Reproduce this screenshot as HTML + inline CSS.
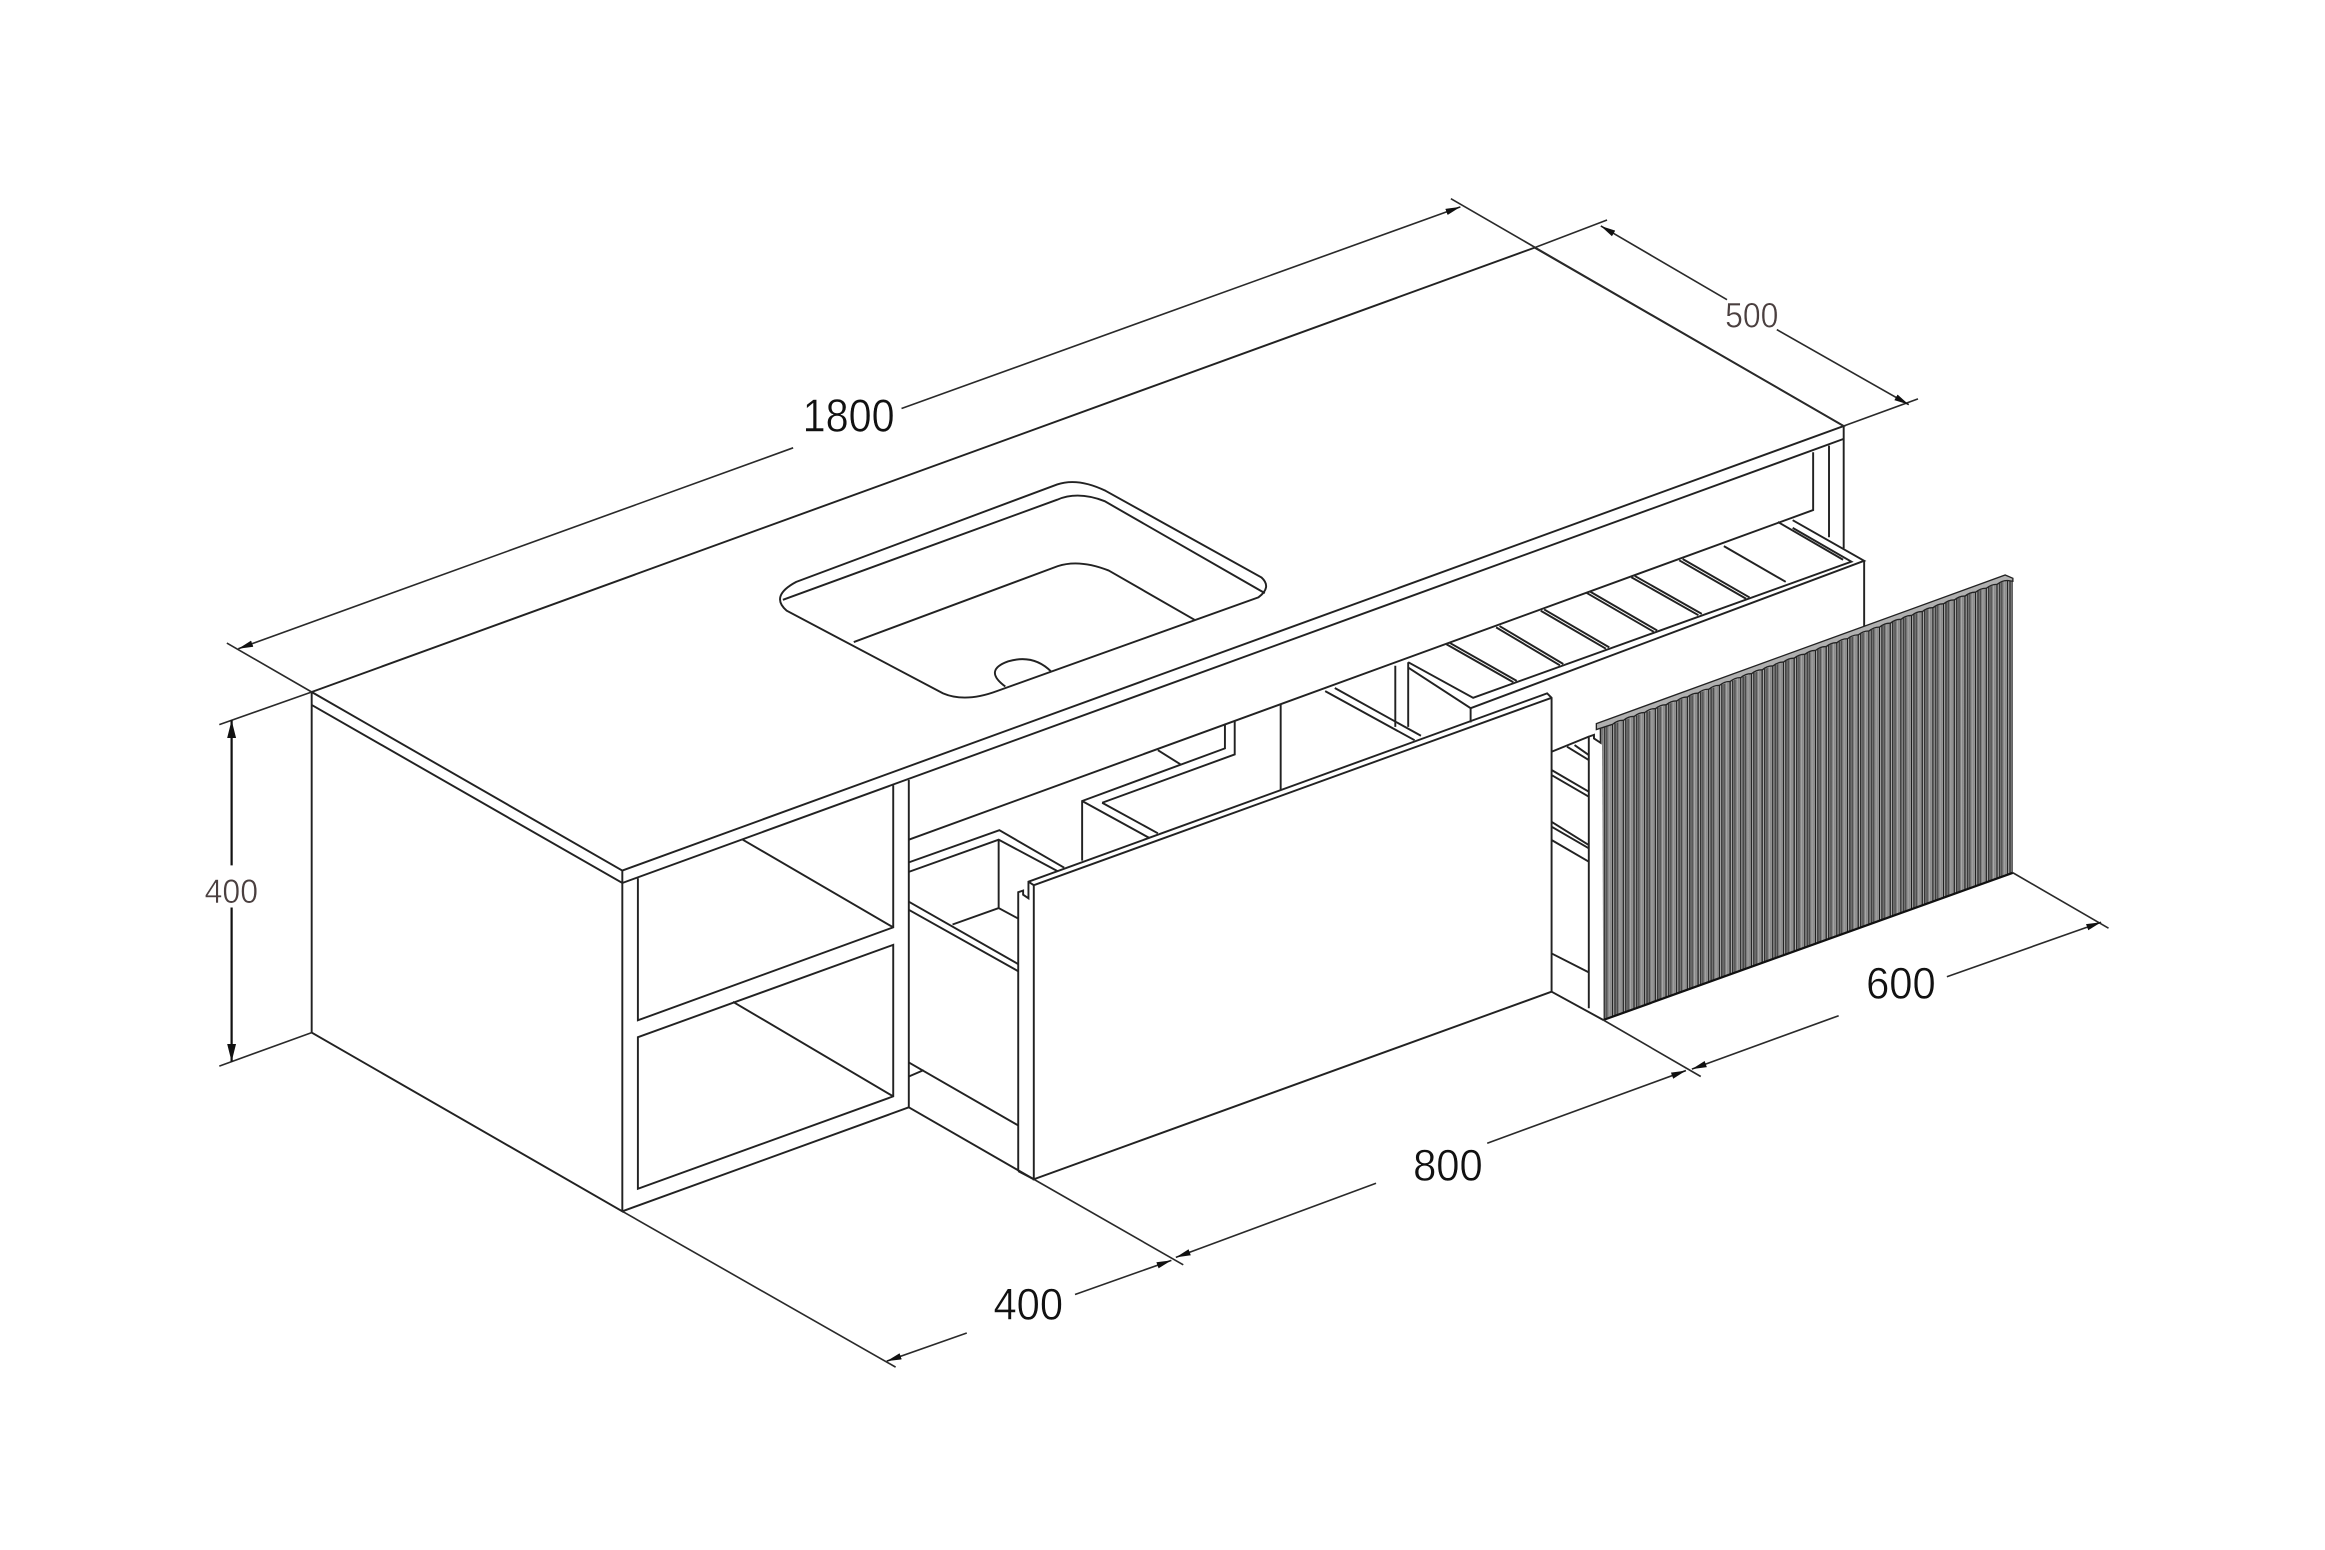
<!DOCTYPE html>
<html><head><meta charset="utf-8"><style>
html,body{margin:0;padding:0;background:#fff;width:2325px;height:1550px;overflow:hidden}
svg{display:block}
text{font-family:"Liberation Sans",sans-serif;fill:#111;stroke:#fff;stroke-width:.35;paint-order:normal}
.l{fill:none;stroke:#222;stroke-width:1.3;stroke-linejoin:miter;stroke-linecap:butt}
.d{fill:none;stroke:#2a2a2a;stroke-width:1.1}
</style></head><body>
<svg width="2325" height="1550" viewBox="0 0 1568 1045.33" xmlns="http://www.w3.org/2000/svg">
<defs>
<marker id="a" markerUnits="userSpaceOnUse" markerWidth="12" markerHeight="8" refX="10" refY="3" orient="auto"><path d="M0,0.8 L10,3 L0,5.2 Z" fill="#111"/></marker>
<marker id="b" markerUnits="userSpaceOnUse" markerWidth="14" markerHeight="8" refX="12" refY="4" orient="auto"><path d="M0,1 L12,4 L0,7 Z" fill="#111"/></marker>
<linearGradient id="g"><stop offset="0" stop-color="#5c5c5c"/><stop offset="1" stop-color="#969696"/></linearGradient>
<pattern id="fl" patternUnits="userSpaceOnUse" width="7.2" height="10" x="1080" y="0">
<rect width="7.2" height="10" fill="url(#g)"/>
<rect x="0" width="0.9" height="10" fill="#1c1c1c"/>
<rect x="0.9" width="0.6" height="10" fill="#e0e0e0"/>
<rect x="1.5" width="0.8" height="10" fill="#2c2c2c"/>
<rect x="3.4" width="0.5" height="10" fill="#3a3a3a"/>
<rect x="5" width="0.5" height="10" fill="#b4b4b4"/>
</pattern>
</defs>

<!-- slab -->
<path class="l" d="M210.2,466.7 L1035,167 L1243.4,287.3 L419.7,587.1 Z"/>
<path class="l" d="M210.2,466.7 L210.2,696.4 L419.7,816.9 L419.7,587.1"/>
<path class="l" d="M210.2,475.4 L419.7,595.5 L1243.4,296"/>

<!-- sink -->
<path class="l" d="M537,392.4 L713,326.7 Q727,322 745.6,331 L850.7,389.4 Q858,396 848.6,402.9 L672.5,466 Q651,474 636,467.6 L530.6,411.9 Q519,402 537,392.4 Z"/>
<path class="l" d="M528,404.5 L713,337 Q727,331 745,338 L853,400"/>
<path class="l" d="M575.8,433 L713.4,381.8 Q728,377 747.8,384.8 L805.6,418"/>
<path class="l" d="M678,463 Q663,452 680,446 Q697,441 709,453"/>

<!-- open shelves -->
<path class="l" d="M430.2,592.3 V688.1 L602.4,625.4 V529.6"/>
<path class="l" d="M430.2,699.5 V801.7 L602.4,739.4 V637.2 Z"/>
<path class="l" d="M419.7,816.9 L612.9,746.8 V526"/>
<path class="l" d="M500.9,566.3 L602.4,625.4 M494.3,675.6 L602.4,739.4"/>

<!-- back rail -->
<path class="l" d="M612.9,566.3 L1222.8,344 V305"/>
<path class="l" d="M1233.5,300.5 V362.3 M1243.4,287.3 V369.8"/>

<!-- left drawer interior -->
<path class="l" d="M612.9,581.6 L674,559.9 L717.7,585.2"/>
<path class="l" d="M612.9,588 L673.5,566.3 L713.2,587.5"/>
<path class="l" d="M673.5,566.3 V612.4 M642.4,623.5 L673.5,612.4 L686.7,619.5"/>
<path class="l" d="M612.9,608.1 L686.7,650.2 M612.9,613.6 L686.7,655"/>
<path class="l" d="M612.9,716.5 L686.7,759 M612.9,726 L622.9,721.7"/>
<path class="l" d="M612.9,746.8 L697.2,795.3"/>

<!-- centre interior -->
<path class="l" d="M729.8,580.4 V540.2 L826.1,504.7 V488.2"/>
<path class="l" d="M743.3,541.4 L832.7,508.8 V486.5"/>
<path class="l" d="M729.8,540.2 L774.9,565 M743.3,541.4 L780.9,562"/>
<path class="l" d="M780.9,505.9 L796,515.4"/>
<path class="l" d="M863.7,475.2 V533.1"/>
<path class="l" d="M893.7,466.1 L954,499.2 M900.2,464 L958.3,496.2"/>
<path class="l" d="M941,449 V490.2 M949.7,446.6 V490.2"/>

<!-- right tray -->
<path class="l" d="M949.7,450.2 L991.8,477.6 V487.2"/>
<path class="l" d="M949.7,446.6 L993.5,470.6 L1248.6,378.8 L1209,356"/>
<path class="l" d="M991.8,477.6 L1257.2,378.2 L1209,350.8"/>
<path class="l" d="M1257.2,378.2 V425"/>
<path class="l" d="M1199,352 L1243,377.5"/>
<!-- slats -->
<g class="l">
<path d="M975.5,434.5 L1020.6,460.1 M977.8,433.6 L1022.9,459.2"/>
<path d="M1009,423.1 L1052,448.7 M1011.3,422.2 L1054.3,447.8"/>
<path d="M1039.1,411.9 L1083,437.5 M1041.4,411 L1085.3,436.6"/>
<path d="M1070.1,399.9 L1115.3,426.1 M1072.4,399 L1117.6,425.2"/>
<path d="M1100.2,389.3 L1145.4,414.9 M1102.5,388.4 L1147.7,414"/>
<path d="M1132.5,377.9 L1177.6,403.8 M1134.8,377 L1179.9,402.9"/>
<path d="M1162.6,368.3 L1204.3,392.4"/>
</g>

<!-- 800 panel -->
<path class="l" d="M686.7,789.8 V601.7 L690,600.6 V603.4 L693.6,605.8 V594.6 L1043.4,467.6 L1046.4,470.6 V668.8 L697.2,795.3 V597 L1046.4,470.6"/>
<path class="l" d="M693.6,594.6 L697.2,597"/>
<path class="l" d="M686.7,789.8 L697.2,795.3"/>

<!-- right drawer interior -->
<path class="l" d="M1046.4,507 L1071.5,496.8"/>
<path class="l" d="M1056.8,503.6 L1071.5,512.6 M1061.9,502.5 L1071.5,509.2"/>
<path class="l" d="M1046.4,519.3 L1071.5,533.9 M1046.4,522.7 L1071.5,537.3"/>
<path class="l" d="M1046.4,554.2 L1071.5,569.9 M1046.4,557.5 L1071.5,572.1 M1046.4,566.5 L1071.5,581.1"/>
<path class="l" d="M1046.4,643 L1071.5,655.8"/>
<path class="l" d="M1046.4,668.8 L1081.3,687.9"/>

<!-- fluted panel -->
<polygon points="1080.5,491 1357.5,390 1357.5,588.6 1081.3,687.9" fill="url(#fl)"/>
<path d="M1081.3,687.9 L1357.5,588.6" fill="none" stroke="#111" stroke-width="1.5"/>
<path class="l" d="M1071.5,680 V496.8 L1075,495.6 V498 L1079.5,501 V491"/>
<path d="M1076.6,488 L1352.3,387.8 L1357.5,390 V392 L1354,391.5 q-3.6,-.2 -7.2,2.62 q-3.6,-.2 -7.2,2.62 q-3.6,-.2 -7.2,2.62 q-3.6,-.2 -7.2,2.62 q-3.6,-.2 -7.2,2.62 q-3.6,-.2 -7.2,2.62 q-3.6,-.2 -7.2,2.62 q-3.6,-.2 -7.2,2.62 q-3.6,-.2 -7.2,2.62 q-3.6,-.2 -7.2,2.62 q-3.6,-.2 -7.2,2.62 q-3.6,-.2 -7.2,2.62 q-3.6,-.2 -7.2,2.62 q-3.6,-.2 -7.2,2.62 q-3.6,-.2 -7.2,2.62 q-3.6,-.2 -7.2,2.62 q-3.6,-.2 -7.2,2.62 q-3.6,-.2 -7.2,2.62 q-3.6,-.2 -7.2,2.62 q-3.6,-.2 -7.2,2.62 q-3.6,-.2 -7.2,2.62 q-3.6,-.2 -7.2,2.62 q-3.6,-.2 -7.2,2.62 q-3.6,-.2 -7.2,2.62 q-3.6,-.2 -7.2,2.62 q-3.6,-.2 -7.2,2.62 q-3.6,-.2 -7.2,2.62 q-3.6,-.2 -7.2,2.62 q-3.6,-.2 -7.2,2.62 q-3.6,-.2 -7.2,2.62 q-3.6,-.2 -7.2,2.62 q-3.6,-.2 -7.2,2.62 q-3.6,-.2 -7.2,2.62 q-3.6,-.2 -7.2,2.62 q-3.6,-.2 -7.2,2.62 q-3.6,-.2 -7.2,2.62 q-3.6,-.2 -7.2,2.62 L1076.6,492 Z" fill="#b0b0b0" stroke="#222" stroke-width=".9"/>

<!-- extension lines -->
<path class="d" d="M210.2,466.7 L153,433.7 M978.5,134 L1243.4,287.3 M1035,167 L1083.8,148.4 M1243.4,287.3 L1293.5,269"/>
<path class="d" d="M210.2,466.7 L147.9,488.7 M210.2,696.4 L147.9,719"/>
<path class="d" d="M419.7,816.9 L604,922 M697.2,795.3 L798,853 M1081.3,687.9 L1147,726 M1357.5,588.6 L1422,626"/>

<!-- dimension lines -->
<path class="d" d="M534.9,302 L160.7,437.5" marker-end="url(#a)"/>
<path class="d" d="M608,275.5 L984.9,139.5" marker-end="url(#a)"/>
<path class="d" d="M1164.7,202.1 L1079.6,152.4" marker-end="url(#a)"/>
<path class="d" d="M1198.3,222.3 L1287.3,272.9" marker-end="url(#a)"/>
<path d="M156.2,583.6 L156.2,485.7" fill="none" stroke="#111" stroke-width="1.5" marker-end="url(#b)"/>
<path d="M156.2,612 L156.2,716" fill="none" stroke="#111" stroke-width="1.5" marker-end="url(#b)"/>
<path class="d" d="M652,899 L598,918" marker-end="url(#a)"/>
<path class="d" d="M725,873 L790,850" marker-end="url(#a)"/>
<path class="d" d="M928,798 L793,848" marker-end="url(#a)"/>
<path class="d" d="M1003,771 L1137,722" marker-end="url(#a)"/>
<path class="d" d="M1240,685 L1141,721" marker-end="url(#a)"/>
<path class="d" d="M1313,658.7 L1417,622" marker-end="url(#a)"/>

<!-- labels -->
<text x="541.3" y="291" font-size="31" textLength="62" lengthAdjust="spacingAndGlyphs">1800</text>
<text x="1163.4" y="220.8" font-size="23.5" textLength="36" lengthAdjust="spacingAndGlyphs" style="fill:#4a3f3f">500</text>
<text x="138" y="609" font-size="23" textLength="36" lengthAdjust="spacingAndGlyphs" style="fill:#4a3f3f">400</text>
<text x="670" y="890" font-size="30" textLength="47" lengthAdjust="spacingAndGlyphs">400</text>
<text x="953" y="796" font-size="30" textLength="47" lengthAdjust="spacingAndGlyphs">800</text>
<text x="1258.5" y="673.5" font-size="30" textLength="47" lengthAdjust="spacingAndGlyphs">600</text>
</svg>
</body></html>
